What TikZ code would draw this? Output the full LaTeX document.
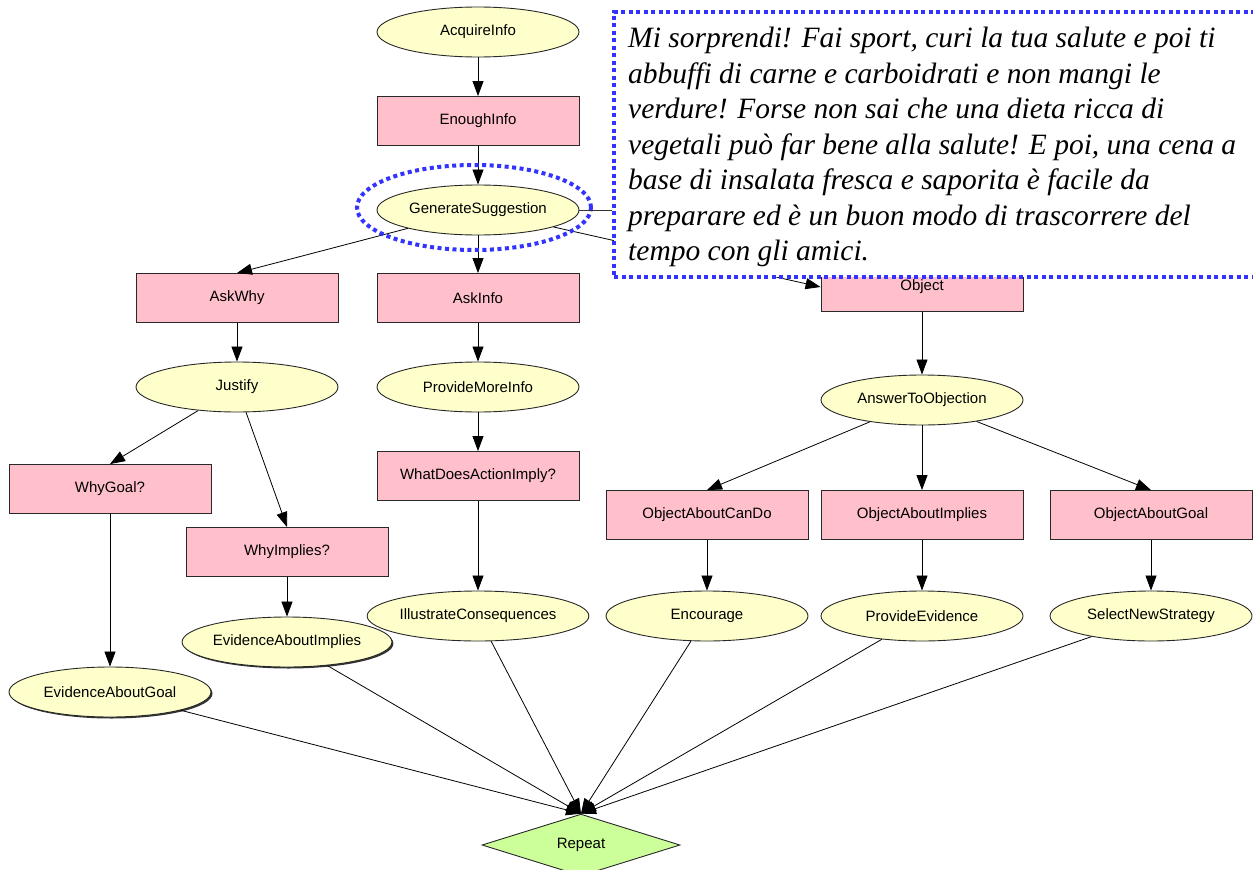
\documentclass[tikz,border=0pt]{standalone}
\usepackage{fontspec}
\setmainfont{Liberation Serif}
\setsansfont{Liberation Sans}
\usetikzlibrary{shapes.geometric,arrows.meta,shadows}

\definecolor{stateyellow}{RGB}{255,255,204}
\definecolor{actpink}{RGB}{255,192,203}
\definecolor{repeatgreen}{RGB}{204,255,153}
\definecolor{noteblue}{RGB}{51,51,255}
\definecolor{border}{RGB}{40,40,40}

\tikzset{
  base/.style={draw=border, line width=0.9pt, inner sep=0pt,
    font=\sffamily\fontsize{15}{18}\selectfont},
  state/.style={base, ellipse, fill=stateyellow, minimum width=202pt, minimum height=50pt},
  act/.style={base, rectangle, fill=actpink, minimum width=202pt, minimum height=49pt},
  loopnode/.style={base, diamond, fill=repeatgreen, minimum width=198pt, minimum height=50pt},
  shaded/.style={drop shadow={shadow xshift=1.5pt, shadow yshift=-1.5pt, opacity=1, fill=black!80}},
  flow/.style={draw=black, line width=0.8pt, -{Triangle[length=15pt,width=11pt]}},
  plainline/.style={draw=black!80, line width=0.8pt},
  dotline/.style={draw=noteblue, line width=4pt, dash pattern=on 4pt off 3.5pt},
}

\begin{document}
\begin{tikzpicture}[x=1pt, y=-1pt]
  \clip (0,0) rectangle (1253,870);
  \fill[white] (0,0) rectangle (1253,870);

  % upper chain
  \node[state] (acq)  at (478,32)  {AcquireInfo};
  \node[act]   (enough) at (478,121) {EnoughInfo};
  \node[state] (gs)   at (478,210) {GenerateSuggestion};

  % three branches
  \node[act]   (askwhy)  at (237,298) {AskWhy};
  \node[act]   (askinfo) at (478,298) {AskInfo};
  \node[act]   (object)  at (922,287) {Object};

  % left branch
  \node[state] (justify)  at (237,387) {Justify};
  \node[act]   (whygoal)  at (110,489) {WhyGoal?};
  \node[act]   (whyimpl)  at (287,552) {WhyImplies?};
  \node[state, shaded] (evimpl) at (287,642) {EvidenceAboutImplies};
  \node[state, shaded] (evgoal) at (110,692) {EvidenceAboutGoal};

  % middle branch
  \node[state] (moreinfo) at (478,387) {ProvideMoreInfo};
  \node[act]   (whatdoes) at (478,476) {WhatDoesActionImply?};
  \node[state] (illus)    at (478,616) {IllustrateConsequences};

  % right branch
  \node[state] (answer)   at (922,400) {AnswerToObjection};
  \node[act]   (objcando) at (707,515) {ObjectAboutCanDo};
  \node[act]   (objimpl)  at (922,515) {ObjectAboutImplies};
  \node[act]   (objgoal)  at (1151,515) {ObjectAboutGoal};
  \node[state] (encourage) at (707,616) {Encourage};
  \node[state] (provev)   at (922,616) {ProvideEvidence};
  \node[state] (selnew)   at (1151,616) {SelectNewStrategy};

  % final node
  \node[loopnode] (repeat) at (581,845) {Repeat};

  % connectors
  \draw[flow] (acq) -- (enough);
  \draw[flow] (enough) -- (gs);
  \draw[flow] (gs) -- (askwhy.north);
  \draw[flow] (gs) -- (askinfo);
  \draw[flow] (gs) -- (object.west);
  \draw[flow] (askwhy) -- (justify);
  \draw[flow] (justify) -- (whygoal.north);
  \draw[flow] (justify) -- (whyimpl.north);
  \draw[flow] (whygoal) -- (evgoal);
  \draw[flow] (whyimpl) -- (evimpl);
  \draw[flow] (askinfo) -- (moreinfo);
  \draw[flow] (moreinfo) -- (whatdoes);
  \draw[flow] (whatdoes) -- (illus);
  \draw[flow] (object) -- (answer);
  \draw[flow] (answer) -- (objcando.north);
  \draw[flow] (answer) -- (objimpl);
  \draw[flow] (answer) -- (objgoal.north);
  \draw[flow] (objcando) -- (encourage);
  \draw[flow] (objimpl) -- (provev);
  \draw[flow] (objgoal) -- (selnew);
  \foreach \src in {evgoal, evimpl, illus, encourage, provev, selnew}
    \draw[flow] (\src) -- (repeat.north);

  % highlight around the current step
  \node[dotline, ellipse, minimum width=234pt, minimum height=85pt] (focus) at (474,207.5) {};

  % speech note
  \node[dotline, fill=white, rectangle, anchor=north west, inner sep=0pt,
        minimum width=653pt, minimum height=265pt] (callout) at (612,10) {};
  \draw[plainline] (gs.east) -- (callout.west |- gs.east);
  \node[anchor=north west, align=left, inner sep=0pt,
        font=\rmfamily\itshape\fontsize{29.5}{35.5}\selectfont] (notetext) at (628,27)
    {Mi sorprendi! Fai sport, curi la tua salute e poi ti\\
     abbuffi di carne e carboidrati e non mangi le\\
     verdure! Forse non sai che una dieta ricca di\\
     vegetali può far bene alla salute! E poi, una cena a\\
     base di insalata fresca e saporita è facile da\\
     preparare ed è un buon modo di trascorrere del\\
     tempo con gli amici.};
\end{tikzpicture}
\end{document}
